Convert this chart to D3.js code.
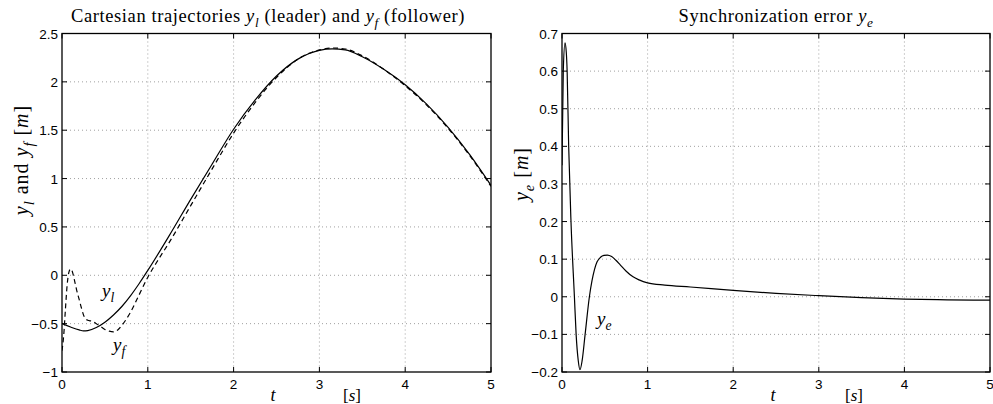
<!DOCTYPE html>
<html>
<head>
<meta charset="utf-8">
<script src="https://cdn.jsdelivr.net/npm/d3@7/dist/d3.min.js"></script>
<style>
  html, body { margin: 0; padding: 0; background: #fff; }
  svg { display: block; }
  .tick-label { font-family: "Liberation Sans", Arial, sans-serif; font-size: 13.5px; fill: #000; }
  .serif { font-family: "Liberation Serif", "DejaVu Serif", serif; fill: #000; }
</style>
</head>
<body>
<svg id="chart" width="993" height="404"></svg>
<script>
// Time axis shared by both panels
const xTicks = [0, 1, 2, 3, 4, 5];

// Leader trajectory y_l (solid)
const tLeader = [0, 0.1, 0.2, 0.25, 0.3, 0.4, 0.5, 0.6, 0.7, 0.8, 0.9, 1.0, 1.25, 1.5, 1.75, 2.0, 2.25, 2.5, 2.75, 3.0, 3.15, 3.3, 3.5, 3.75, 4.0, 4.25, 4.5, 4.75, 5.0];
const yLeader = [-0.50, -0.535, -0.565, -0.575, -0.572, -0.54, -0.485, -0.41, -0.32, -0.21, -0.085, 0.05, 0.41, 0.785, 1.15, 1.51, 1.81, 2.06, 2.235, 2.325, 2.34, 2.33, 2.26, 2.13, 1.97, 1.77, 1.53, 1.25, 0.93];

// Follower trajectory y_f (dashed)
const tFollower = [0, 0.02, 0.04, 0.06, 0.08, 0.1, 0.12, 0.14, 0.17, 0.2, 0.23, 0.26, 0.3, 0.35, 0.4, 0.45, 0.5, 0.55, 0.6, 0.65, 0.7, 0.8, 0.9, 1.0, 1.1, 1.25, 1.5, 1.75, 2.0, 2.25, 2.5, 2.75, 3.0, 3.15, 3.3, 3.5, 3.75, 4.0, 4.25, 4.5, 4.75, 5.0];
const yFollower = [-0.78, -0.62, -0.35, -0.10, 0.03, 0.065, 0.04, -0.03, -0.15, -0.25, -0.35, -0.43, -0.465, -0.475, -0.50, -0.53, -0.56, -0.578, -0.585, -0.565, -0.515, -0.38, -0.20, -0.02, 0.13, 0.34, 0.72, 1.10, 1.47, 1.785, 2.045, 2.235, 2.33, 2.35, 2.34, 2.27, 2.13, 1.96, 1.76, 1.52, 1.24, 0.92];

// Synchronization error y_e
const tError = [0, 0.015, 0.035, 0.05, 0.06, 0.078, 0.105, 0.145, 0.165, 0.19, 0.21, 0.235, 0.27, 0.32, 0.35, 0.38, 0.41, 0.45, 0.49, 0.53, 0.58, 0.63, 0.68, 0.75, 0.83, 0.9, 1.0, 1.2, 1.5, 2.0, 2.5, 3.0, 3.5, 4.0, 4.5, 5.0];
const yError = [0.35, 0.60, 0.675, 0.65, 0.60, 0.40, 0.20, 0.00, -0.10, -0.17, -0.194, -0.17, -0.10, 0.00, 0.042, 0.073, 0.093, 0.105, 0.110, 0.111, 0.107, 0.097, 0.085, 0.068, 0.053, 0.045, 0.037, 0.031, 0.026, 0.017, 0.009, 0.003, -0.002, -0.006, -0.008, -0.009];

// Vertical ticks for each panel
const leftYTicks = [-1, -0.5, 0, 0.5, 1, 1.5, 2, 2.5];
const rightYTicks = [-0.2, -0.1, 0, 0.1, 0.2, 0.3, 0.4, 0.5, 0.6, 0.7];

const svg = d3.select("#chart");
const fmt = v => String(+v.toFixed(2)).replace("-", "\u2212");

function panel(opts) {
  const { x0, x1, y0, y1, yDomain, yTicks, id } = opts;
  const x = d3.scaleLinear().domain([0, 5]).range([x0, x1]);
  const y = d3.scaleLinear().domain(yDomain).range([y1, y0]);
  const g = svg.append("g");

  // Dotted grid
  const grid = g.append("g").attr("stroke", "#a0a0a0").attr("stroke-width", 1).attr("stroke-dasharray", "1,3");
  xTicks.slice(1, -1).forEach(t => {
    grid.append("line").attr("x1", x(t)).attr("x2", x(t)).attr("y1", y0).attr("y2", y1);
  });
  yTicks.slice(1, -1).forEach(t => {
    grid.append("line").attr("x1", x0).attr("x2", x1).attr("y1", y(t)).attr("y2", y(t));
  });

  // Inward ticks on all four sides
  const tk = g.append("g").attr("stroke", "#000").attr("stroke-width", 1);
  const tl = 5;
  xTicks.forEach(t => {
    tk.append("line").attr("x1", x(t)).attr("x2", x(t)).attr("y1", y1).attr("y2", y1 - tl);
    tk.append("line").attr("x1", x(t)).attr("x2", x(t)).attr("y1", y0).attr("y2", y0 + tl);
  });
  yTicks.forEach(t => {
    tk.append("line").attr("x1", x0).attr("x2", x0 + tl).attr("y1", y(t)).attr("y2", y(t));
    tk.append("line").attr("x1", x1).attr("x2", x1 - tl).attr("y1", y(t)).attr("y2", y(t));
  });

  // Tick labels
  xTicks.forEach(t => {
    g.append("text").attr("class", "tick-label").attr("x", x(t)).attr("y", y1 + 17)
      .attr("text-anchor", "middle").text(fmt(t));
  });
  yTicks.forEach(t => {
    g.append("text").attr("class", "tick-label").attr("x", x0 - 4).attr("y", y(t) + 5)
      .attr("text-anchor", "end").text(fmt(t));
  });

  // Clip for data lines
  svg.append("clipPath").attr("id", id).append("rect")
    .attr("x", x0).attr("y", y0).attr("width", x1 - x0).attr("height", y1 - y0);

  // Box
  g.append("rect").attr("x", x0).attr("y", y0).attr("width", x1 - x0).attr("height", y1 - y0)
    .attr("fill", "none").attr("stroke", "#000").attr("stroke-width", 1.3);

  return { g, x, y };
}

function lineOf(p, ts, vs, clipId, dash) {
  const pts = ts.map((t, i) => [t, vs[i]]);
  const line = d3.line().x(d => p.x(d[0])).y(d => p.y(d[1])).curve(d3.curveMonotoneX);
  p.g.append("path").datum(pts).attr("d", line)
    .attr("clip-path", `url(#${clipId})`)
    .attr("fill", "none").attr("stroke", "#000").attr("stroke-width", 1.2)
    .attr("stroke-dasharray", dash || null);
}

// Rich text helper: parts are [text, style] with style "r" roman, "i" italic, "s" subscript italic
function rich(sel, parts, size, spacing) {
  let prevSub = false;
  if (spacing) sel.attr("letter-spacing", spacing);
  parts.forEach(([txt, st]) => {
    const ts = sel.append("tspan").text(txt);
    if (st === "i" || st === "s") ts.attr("font-style", "italic");
    if (st === "s") {
      ts.attr("font-size", size * 0.72).attr("dy", size * 0.28);
      prevSub = true;
    } else {
      ts.attr("font-size", size);
      if (prevSub) { ts.attr("dy", -size * 0.28); prevSub = false; }
    }
  });
  return sel;
}

// Left panel: trajectories
const L = panel({ x0: 62, x1: 491, y0: 33.5, y1: 372, yDomain: [-1, 2.5], yTicks: leftYTicks, id: "clipL" });
lineOf(L, tLeader, yLeader, "clipL");
lineOf(L, tFollower, yFollower, "clipL", "5,3.5");

// Right panel: error
const R = panel({ x0: 562, x1: 990, y0: 33.5, y1: 372, yDomain: [-0.2, 0.7], yTicks: rightYTicks, id: "clipR" });
lineOf(R, tError, yError, "clipR");

// Titles
rich(svg.append("text").attr("class", "serif").attr("x", 268).attr("y", 22).attr("text-anchor", "middle"),
  [["Cartesian trajectories ", "r"], ["y", "i"], ["l", "s"], [" (leader) and ", "r"], ["y", "i"], ["f", "s"], [" (follower)", "r"]], 18.5, 0.6);
rich(svg.append("text").attr("class", "serif").attr("x", 776).attr("y", 22).attr("text-anchor", "middle"),
  [["Synchronization error ", "r"], ["y", "i"], ["e", "s"]], 18.5, 0.6);

// Axis labels
svg.append("text").attr("class", "serif").attr("x", 273).attr("y", 401).attr("text-anchor", "middle")
  .attr("font-size", 18).attr("font-style", "italic").text("t");
rich(svg.append("text").attr("class", "serif").attr("x", 352).attr("y", 401).attr("text-anchor", "middle"),
  [["[", "r"], ["s", "i"], ["]", "r"]], 17);
svg.append("text").attr("class", "serif").attr("x", 773).attr("y", 401).attr("text-anchor", "middle")
  .attr("font-size", 18).attr("font-style", "italic").text("t");
rich(svg.append("text").attr("class", "serif").attr("x", 854).attr("y", 401).attr("text-anchor", "middle"),
  [["[", "r"], ["s", "i"], ["]", "r"]], 17);

rich(svg.append("text").attr("class", "serif").attr("transform", "translate(28,160) rotate(-90)").attr("text-anchor", "middle"),
  [["y", "i"], ["l", "s"], [" and ", "r"], ["y", "i"], ["f", "s"], [" [", "r"], ["m", "i"], ["]", "r"]], 20, 1);
rich(svg.append("text").attr("class", "serif").attr("transform", "translate(528,174) rotate(-90)").attr("text-anchor", "middle"),
  [["y", "i"], ["e", "s"], [" [", "r"], ["m", "i"], ["]", "r"]], 20, 1);

// Curve labels
rich(svg.append("text").attr("class", "serif").attr("x", 102).attr("y", 297),
  [["y", "i"], ["l", "s"]], 19);
rich(svg.append("text").attr("class", "serif").attr("x", 113).attr("y", 351),
  [["y", "i"], ["f", "s"]], 19);
rich(svg.append("text").attr("class", "serif").attr("x", 597).attr("y", 325),
  [["y", "i"], ["e", "s"]], 19);
</script>
</body>
</html>
